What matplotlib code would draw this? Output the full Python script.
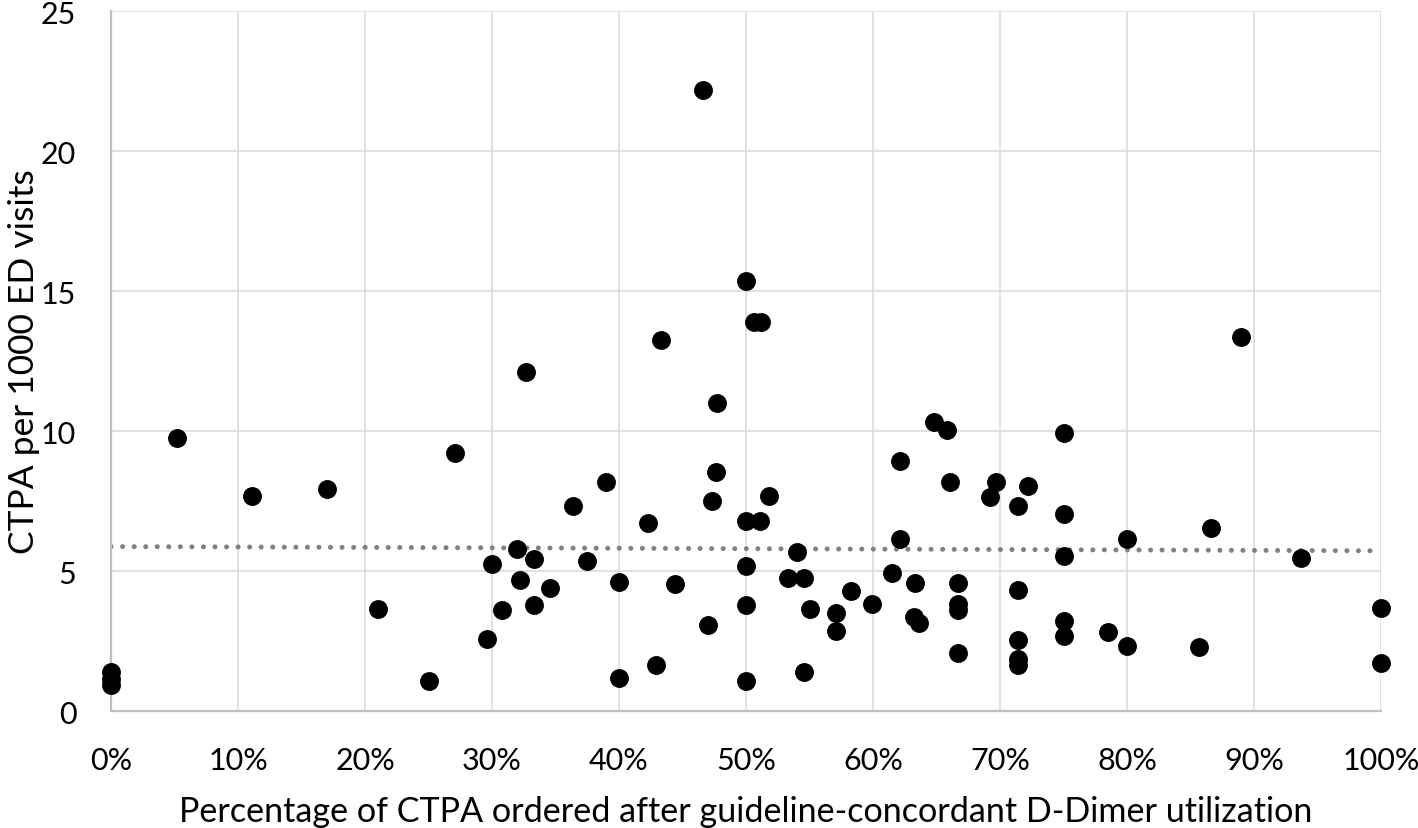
import matplotlib
matplotlib.use('Agg')
import matplotlib.pyplot as plt
import numpy as np
from matplotlib.ticker import PercentFormatter

# share of CTPA after guideline-concordant D-Dimer (%), and CTPA per 1000 ED visits
pct_ddimer = [0, 0, 0, 5.2, 11.1, 17.0, 21.0, 25.0, 27.1, 29.6, 30.0, 30.8,
              32.0, 32.2, 32.7, 33.3, 33.3, 34.6, 36.4, 37.5, 39.0, 40.0, 40.0,
              42.3, 42.9, 43.3, 44.4, 46.6, 47.0, 47.3, 47.6, 47.7,
              50.0, 50.0, 50.0, 50.0, 50.0, 50.6, 51.2, 51.1, 51.8,
              53.3, 54.0, 54.6, 55.0, 54.6, 57.1, 57.1, 58.3, 59.9,
              61.5, 62.1, 62.1, 63.3, 63.2, 63.6, 64.8, 65.8, 66.1,
              66.7, 66.7, 66.7, 66.7, 69.2, 69.7,
              71.4, 71.4, 71.4, 71.4, 71.4, 72.2,
              75.0, 75.0, 75.0, 75.0, 75.0, 78.5, 80.0, 80.0,
              85.7, 86.6, 89.0, 93.7, 100, 100]
ctpa_rate = [1.38, 1.15, 0.93, 9.75, 7.69, 7.93, 3.63, 1.08, 9.22, 2.58, 5.25, 3.62,
             5.8, 4.68, 12.12, 5.42, 3.8, 4.4, 7.33, 5.36, 8.19, 4.6, 1.17,
             6.7, 1.64, 13.24, 4.54, 22.19, 3.06, 7.49, 8.55, 10.99,
             15.35, 6.77, 5.18, 3.79, 1.07, 13.88, 13.88, 6.79, 7.67,
             4.74, 5.67, 4.74, 3.65, 1.4, 3.51, 2.87, 4.3, 3.81,
             4.94, 6.14, 8.93, 4.56, 3.35, 3.14, 10.33, 10.04, 8.18,
             4.56, 3.82, 3.62, 2.06, 7.63, 8.19,
             7.31, 4.33, 2.52, 1.86, 1.65, 8.04,
             9.93, 7.05, 5.52, 3.23, 2.69, 2.81, 6.14, 2.33,
             2.27, 6.52, 13.35, 5.45, 3.68, 1.71]

x = np.array(pct_ddimer)
y = np.array(ctpa_rate)

plt.rcParams['font.family'] = ['Lato', 'DejaVu Sans']

fig = plt.figure(figsize=(14.18, 8.29), dpi=100)
ax = fig.add_axes([0.0783, 0.1411, 0.8956, 0.8444])

# linear trendline
slope, icpt = np.polyfit(x, y, 1)
xt = np.array([0, 100])
ax.plot(xt, slope * xt + icpt, color='#808080', lw=3.6,
        linestyle=(0, (0.01, 2.3)), dash_capstyle='round', zorder=2)

ax.scatter(x, y, s=185, color='black', zorder=3, clip_on=False, linewidths=0)

ax.set_xlim(0, 100)
ax.set_ylim(0, 25)
ax.set_xticks(np.arange(0, 101, 10))
ax.set_yticks(np.arange(0, 26, 5))
ax.xaxis.set_major_formatter(PercentFormatter(xmax=100, decimals=0))
ax.grid(True, color='#d9d9d9', lw=1.1)
ax.set_axisbelow(True)
for s in ['top', 'right']:
    ax.spines[s].set_visible(False)
for s in ['left', 'bottom']:
    ax.spines[s].set_color('#bfbfbf')
    ax.spines[s].set_linewidth(1.6)
ax.tick_params(length=0, labelsize=22)
ax.tick_params(axis='x', pad=25)
ax.tick_params(axis='y', pad=25)

ax.set_xlabel('Percentage of CTPA ordered after guideline-concordant D-Dimer utilization',
              fontsize=24.6, labelpad=15)
ax.set_ylabel('CTPA per 1000 ED visits', fontsize=25.5, labelpad=1)

plt.savefig('out.png', dpi=100)
